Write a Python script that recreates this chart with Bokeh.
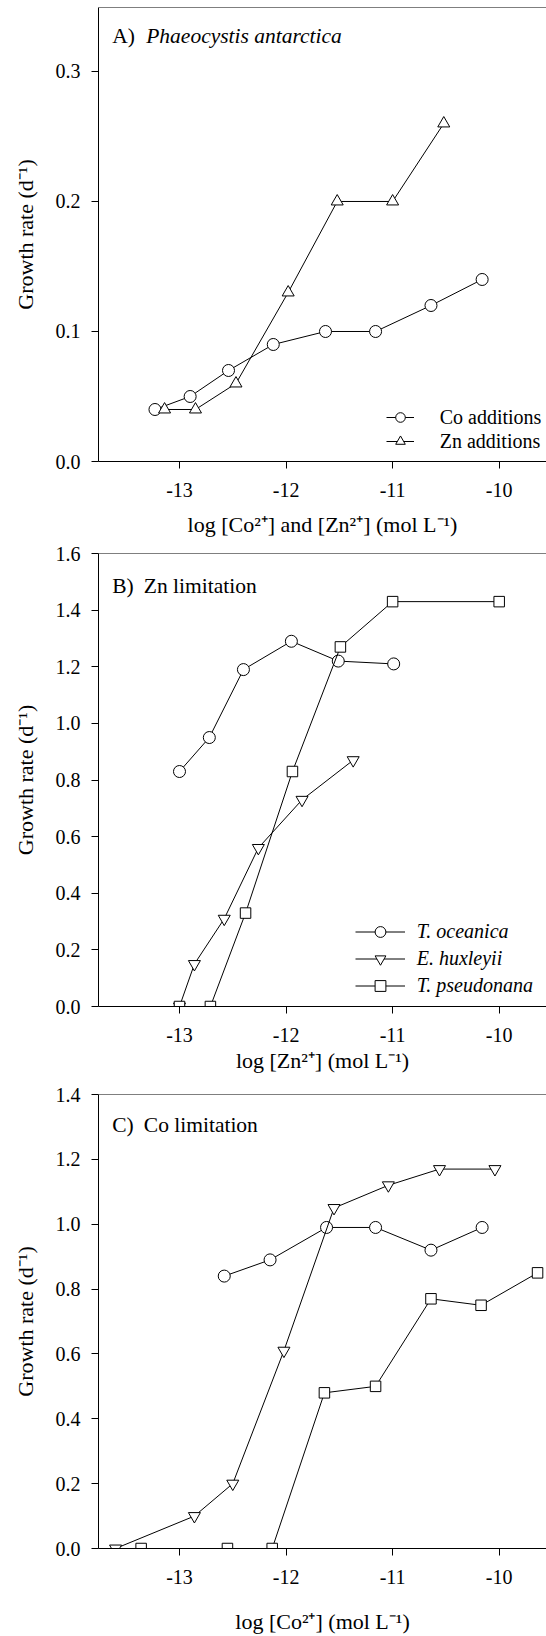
from bokeh.plotting import figure
from bokeh.layouts import column
from bokeh.models import Span, Label, Legend, LegendItem, FixedTicker, Range1d, NumeralTickFormatter
from bokeh.embed import file_html
from bokeh.resources import INLINE

# ---------------- data ----------------
x_ticks = [-13, -12, -11, -10]
x_tick_labels = ["-13", "-12", "-11", "-10"]

# Panel A: Phaeocystis antarctica
a_co_x = [-13.23, -12.90, -12.54, -12.12, -11.63, -11.16, -10.64, -10.16]
a_co_y = [0.04, 0.05, 0.07, 0.09, 0.10, 0.10, 0.12, 0.14]
a_zn_x = [-13.14, -12.85, -12.47, -11.98, -11.52, -11.00, -10.52]
a_zn_y = [0.04, 0.04, 0.06, 0.13, 0.20, 0.20, 0.26]
a_y_ticks = [0.0, 0.1, 0.2, 0.3]

# Panel B: Zn limitation
b_ocean_x = [-13.00, -12.72, -12.40, -11.95, -11.51, -10.99]
b_ocean_y = [0.83, 0.95, 1.19, 1.29, 1.22, 1.21]
b_hux_x = [-13.00, -12.86, -12.58, -12.26, -11.85, -11.37]
b_hux_y = [0.00, 0.15, 0.31, 0.56, 0.73, 0.87]
b_pseudo_x = [-13.00, -12.71, -12.38, -11.94, -11.49, -11.00, -10.00]
b_pseudo_y = [0.00, 0.00, 0.33, 0.83, 1.27, 1.43, 1.43]
b_y_ticks = [0.0, 0.2, 0.4, 0.6, 0.8, 1.0, 1.2, 1.4, 1.6]

# Panel C: Co limitation
c_ocean_x = [-12.58, -12.15, -11.62, -11.16, -10.64, -10.16]
c_ocean_y = [0.84, 0.89, 0.99, 0.99, 0.92, 0.99]
c_hux_x = [-13.60, -12.86, -12.50, -12.02, -11.55, -11.04, -10.56, -10.04]
c_hux_y = [0.00, 0.10, 0.20, 0.61, 1.05, 1.12, 1.17, 1.17]
c_pseudo_x = [-13.36, -12.55, -12.13, -11.64, -11.16, -10.64, -10.17, -9.64]
c_pseudo_y = [0.00, 0.00, 0.00, 0.48, 0.50, 0.77, 0.75, 0.85]
c_y_ticks = [0.0, 0.2, 0.4, 0.6, 0.8, 1.0, 1.2, 1.4]

X0, X1 = -13.760, -9.556
FONT = "Liberation Serif"


def make_fig(height, b_top, b_bottom, y_end, y_ticks, xlabel, xl_standoff):
    p = figure(width=546, height=height, output_backend="svg", toolbar_location=None,
               x_range=Range1d(X0, X1), y_range=Range1d(0, y_end),
               min_border_left=98, min_border_right=0,
               min_border_top=b_top, min_border_bottom=b_bottom)
    p.outline_line_color = None
    p.grid.visible = False
    p.background_fill_color = "white"
    p.border_fill_color = "white"
    for ax in (p.xaxis[0], p.yaxis[0]):
        ax.major_tick_in = 0
        ax.major_tick_out = 7
        ax.minor_tick_line_color = None
        ax.axis_line_color = "black"
        ax.axis_line_width = 1
        ax.major_tick_line_color = "black"
        ax.major_label_text_font = FONT
        ax.major_label_text_font_size = "20px"
        ax.major_label_text_color = "black"
        ax.axis_label_text_font = FONT
        ax.axis_label_text_font_size = "22px"
        ax.axis_label_text_font_style = "normal"
        ax.axis_label_text_color = "black"
    p.xaxis[0].ticker = FixedTicker(ticks=x_ticks)
    p.xaxis[0].major_label_overrides = dict(zip(x_ticks, x_tick_labels))
    p.xaxis[0].major_label_standoff = 14
    p.xaxis[0].axis_label = xlabel
    p.xaxis[0].axis_label_standoff = xl_standoff
    p.yaxis[0].ticker = FixedTicker(ticks=y_ticks)
    p.yaxis[0].formatter = NumeralTickFormatter(format="0.0")
    p.yaxis[0].major_label_standoff = 11
    p.yaxis[0].axis_label = "Growth rate (d\u207b\u00b9)"
    p.yaxis[0].axis_label_standoff = 15
    p.add_layout(Span(location=y_end, dimension="width", line_color="black", line_width=1))
    return p


def series(p, xs, ys, marker, size):
    ln = p.line(xs, ys, line_color="black", line_width=1)
    sc = p.scatter(xs, ys, marker=marker, size=size, line_color="black",
                   line_width=1, fill_color="white")
    return [ln, sc]


def title(p, y_end, left_text, right_text, right_off, y_off, italic):
    p.add_layout(Label(x=X0, y=y_end, x_offset=13.7, y_offset=y_off, text=left_text,
                       text_font=FONT, text_font_size="21.5px", text_color="black",
                       text_baseline="alphabetic", text_align="left"))
    p.add_layout(Label(x=X0, y=y_end, x_offset=right_off, y_offset=y_off, text=right_text,
                       text_font=FONT, text_font_size="21.5px", text_color="black",
                       text_font_style="italic" if italic else "normal",
                       text_baseline="alphabetic", text_align="left"))


# ---------------- Panel A ----------------
ya_end = 0.3492
pA = make_fig(539, 7, 78, ya_end, a_y_ticks,
              "log [Co\u00b2\u207a] and [Zn\u00b2\u207a] (mol L\u207b\u00b9)", 12)
rA1 = series(pA, a_co_x, a_co_y, "circle", 12)
rA2 = series(pA, a_zn_x, a_zn_y, "triangle", 12)
title(pA, ya_end, "A)", "Phaeocystis antarctica", 47.7, -28, True)
legA = Legend(items=[LegendItem(label="Co additions", renderers=rA1),
                     LegendItem(label="Zn additions", renderers=rA2)],
              location=(287.7, 7.7), glyph_width=28, glyph_height=24, label_height=20,
              spacing=0, label_standoff=26, padding=0, margin=0,
              border_line_color=None, background_fill_alpha=0,
              label_text_font=FONT, label_text_font_size="20px", label_text_color="black")
pA.add_layout(legA)

# ---------------- Panel B ----------------
pB = make_fig(539, 14, 72, 1.6, b_y_ticks, "log [Zn\u00b2\u207a] (mol L\u207b\u00b9)", 3)
rB1 = series(pB, b_ocean_x, b_ocean_y, "circle", 12)
rB2 = series(pB, b_hux_x, b_hux_y, "inverted_triangle", 12)
rB3 = series(pB, b_pseudo_x, b_pseudo_y, "square", 10.5)
title(pB, 1.6, "B)", "Zn limitation", 45.3, -32, False)
legB = Legend(items=[LegendItem(label="T. oceanica", renderers=rB1),
                     LegendItem(label="E. huxleyii", renderers=rB2),
                     LegendItem(label="T. pseudonana", renderers=rB3)],
              location=(256.7, 7.5), glyph_width=50, glyph_height=27, label_height=20,
              spacing=0, label_standoff=12, padding=0, margin=0,
              border_line_color=None, background_fill_alpha=0,
              label_text_font=FONT, label_text_font_size="20px",
              label_text_font_style="italic", label_text_color="black")
pB.add_layout(legB)

# ---------------- Panel C ----------------
pC = make_fig(558, 16, 88, 1.4, c_y_ticks, "log [Co\u00b2\u207a] (mol L\u207b\u00b9)", 22)
series(pC, c_ocean_x, c_ocean_y, "circle", 12)
series(pC, c_hux_x, c_hux_y, "inverted_triangle", 12)
series(pC, c_pseudo_x, c_pseudo_y, "square", 10.5)
title(pC, 1.4, "C)", "Co limitation", 45.3, -30, False)

layout = column(pA, pB, pC, spacing=0)
open("out.html", "w").write(file_html(layout, INLINE))
